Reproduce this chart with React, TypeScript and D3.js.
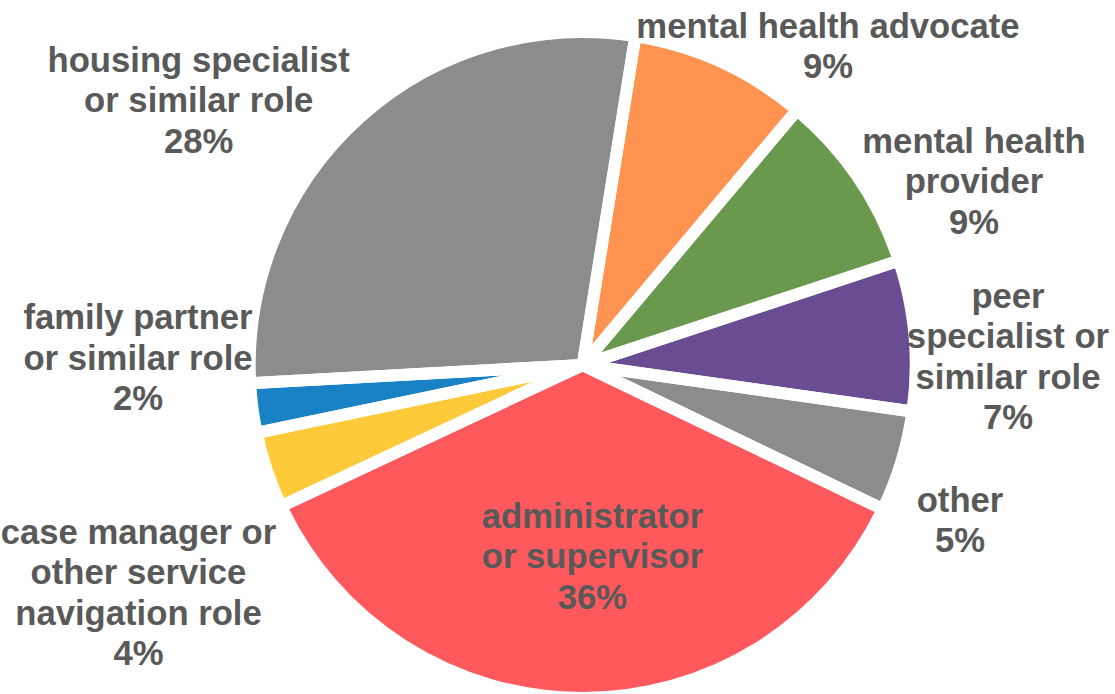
import React from "react";
import * as d3 from "d3";

const categories = [
  "mental health advocate",
  "mental health provider",
  "peer specialist or similar role",
  "other",
  "administrator or supervisor",
  "case manager or other service navigation role",
  "family partner or similar role",
  "housing specialist or similar role",
];
const values = [8.6, 8.8, 7.3, 4.9, 35.9, 3.7, 2.4, 28.4];
const colors = ["#FF934F", "#6A994E", "#6A4C93", "#8C8C8C", "#FF595E", "#FFCA3A", "#1982C4", "#8C8C8C"];
const labelLines = [
  ["mental health advocate"],
  ["mental health", "provider"],
  ["peer", "specialist or", "similar role"],
  ["other"],
  ["administrator", "or supervisor"],
  ["case manager or", "other service", "navigation role"],
  ["family partner", "or similar role"],
  ["housing specialist", "or similar role"],
];
// label anchor positions (center x, first baseline y)
const labelPos: [number, number][] = [
  [828, 37.5],
  [974, 152.5],
  [1008, 307.5],
  [960, 511.5],
  [592.5, 527.5],
  [138.5, 543.5],
  [138, 329],
  [198.7, 71.7],
];

const W = 1115;
const H = 694;
const cx = 582.7;
const cy = 365;
const R = 333;
const startDeg = 9.1;
const lineH = 40.5;

export default function App() {
  const pie = d3
    .pie<number>()
    .sort(null)
    .value((d) => d)
    .startAngle((startDeg * Math.PI) / 180)
    .endAngle((startDeg * Math.PI) / 180 + 2 * Math.PI);
  const arcs = pie(values);
  const arc = d3.arc<d3.PieArcDatum<number>>().innerRadius(0).outerRadius(R);
  const total = d3.sum(values);

  return (
    <svg
      width={W}
      height={H}
      style={{ position: "absolute", left: 0, top: 0, background: "#fff" }}
    >
      <g transform={`translate(${cx},${cy})`}>
        {arcs.map((a, i) => (
          <path key={"f" + i} d={arc(a) || ""} fill={colors[i]} />
        ))}
        {arcs.map((a, i) => (
          <path
            key={"s" + i}
            d={arc(a) || ""}
            fill="none"
            stroke="#fff"
            strokeWidth={12}
            strokeLinejoin="round"
          />
        ))}
      </g>
      <g
        fontFamily="'Liberation Sans', Arial, sans-serif"
        fontWeight="bold"
        fontSize={34.67}
        fill="#595959"
        textAnchor="middle"
      >
        {categories.map((c, i) => {
          const [x, y] = labelPos[i];
          const lines = [...labelLines[i], `${Math.round((values[i] / total) * 100)}%`];
          return (
            <text key={c} x={x} y={y}>
              {lines.map((l, j) => (
                <tspan key={j} x={x} y={y + j * lineH}>
                  {l}
                </tspan>
              ))}
            </text>
          );
        })}
      </g>
    </svg>
  );
}
